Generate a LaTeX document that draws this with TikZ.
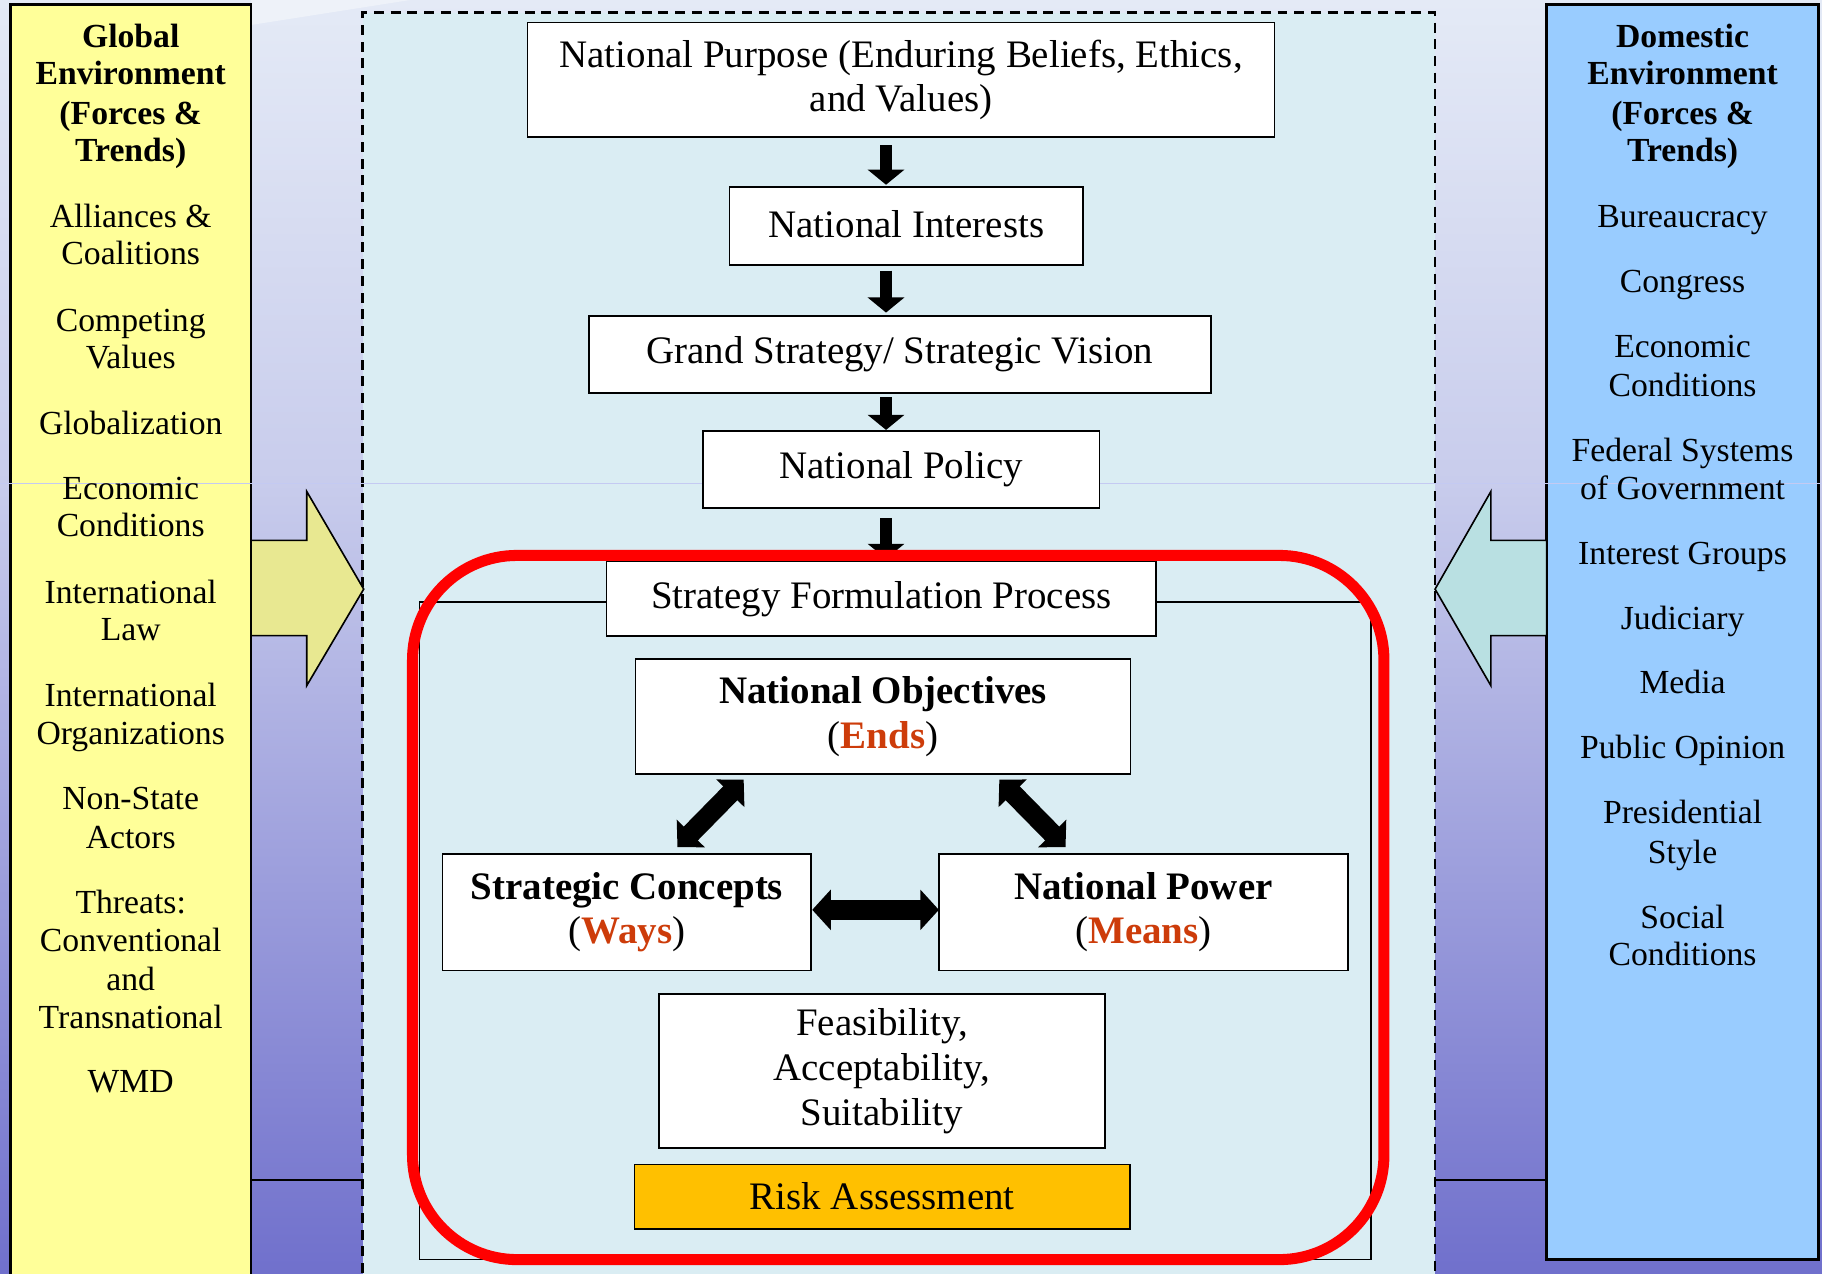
\documentclass[tikz,border=0pt]{standalone}
\usepackage{fontspec}
\setmainfont{Liberation Serif}
\usetikzlibrary{arrows.meta,calc}
\definecolor{yel}{RGB}{255,255,153}
\definecolor{blu}{RGB}{153,204,255}
\definecolor{ctr}{RGB}{218,237,243}
\definecolor{larr}{RGB}{232,232,145}
\definecolor{rarr}{RGB}{185,224,226}
\definecolor{riskcol}{RGB}{255,192,0}
\definecolor{endcol}{RGB}{205,60,10}
\definecolor{bgA}{RGB}{228,234,246}
\definecolor{bgB}{RGB}{200,204,236}
\definecolor{bgC}{RGB}{112,112,204}
\definecolor{bgL}{RGB}{238,242,249}
\definecolor{faint}{RGB}{196,202,242}
\newcommand\ctrfont{\fontsize{16.75}{19.25}\selectfont}
\newcommand\sidefont{\fontsize{14.5}{16.5}\selectfont}
\tikzset{
  box/.style={draw=black, line width=0.65pt, fill=white, inner sep=0pt, outer sep=0pt, align=center, font=\ctrfont},
  sidetxt/.style={anchor=base, inner sep=0pt, font=\sidefont},
  sidebold/.style={anchor=base, inner sep=0pt, font=\sidefont\bfseries},
  downarr/.style={line width=5.5pt, -{Triangle[length=6.5pt,width=15.5pt]}},
  dblarr/.style={line width=8.5pt, {Triangle[length=8.2pt,width=16.5pt]}-{Triangle[length=8.2pt,width=16.5pt]}},
  hdblarr/.style={line width=8.5pt, {Triangle[length=8pt,width=17pt]}-{Triangle[length=8pt,width=17pt]}},
  sidearrow/.style={draw=black, line width=0.7pt, line join=miter},
}
\begin{document}
\begin{tikzpicture}[x=0.5pt,y=-0.5pt]
\useasboundingbox (0,0) rectangle (1568,1096);
% background
\shade[top color=bgA, bottom color=bgB] (0,0) rectangle (1568,416.5);
\shade[top color=bgB, bottom color=bgC] (0,416) rectangle (1568,1096);
\fill[bgL] (216,0) -- (353,0) -- (216,21.5) -- cycle;
% side panels
\filldraw[fill=yel, draw=black, line width=1pt] (9,4) rectangle (216,1110);
\filldraw[fill=blu, draw=black, line width=1pt] (1331,4) rectangle (1565,1084);
% central dashed panel
\fill[ctr] (312,11) rectangle (1235,1110);
\draw[line width=1.1pt, dash pattern=on 4.3pt off 2.9pt] (312,1110) -- (312,11) -- (1235,11) -- (1235,1110);
% faint line
\draw[faint, line width=0.45pt] (0,416) -- (1568,416);
% side arrows
\filldraw[sidearrow, fill=larr] (216,465) -- (264,465) -- (264,423) -- (313,507) -- (264,590) -- (264,547) -- (216,547) -- cycle;
\filldraw[sidearrow, fill=rarr] (1331,465) -- (1283,465) -- (1283,423) -- (1235,507) -- (1283,590) -- (1283,547) -- (1331,547) -- cycle;
\draw[line width=1.15pt] (216,1015.5) -- (312,1015.5);
\draw[line width=1.15pt] (1235,1015.5) -- (1331,1015.5);
% inner frame
\draw[line width=0.6pt] (361,518) rectangle (1180,1084);
% central boxes
\node[box, minimum width=321.5pt, minimum height=49.25pt] (np) at (775.5,68.75) {National Purpose (Enduring Beliefs, Ethics,\\ and Values)};
\node[box, minimum width=152pt, minimum height=33.5pt] (ni) at (780,194.5) {\raisebox{1.5pt}{National Interests}};
\node[box, minimum width=267.5pt, minimum height=33pt] (gs) at (774.5,305) {Grand Strategy/ Strategic Vision};
\node[box, minimum width=170.5pt, minimum height=33pt] (pol) at (775.5,404) {\raisebox{1pt}{National Policy}};
\node[box, minimum width=236.5pt, minimum height=32.25pt] (sfp) at (758.5,515.25) {Strategy Formulation Process};
\node[box, minimum width=213pt, minimum height=49.5pt] (no) at (760,616.5) {\textbf{National Objectives}\\(\textbf{\textcolor{endcol}{Ends}})};
\node[box, minimum width=158.5pt, minimum height=50pt] (sc) at (539.5,785) {\textbf{Strategic Concepts}\\(\textbf{\textcolor{endcol}{Ways}})};
\node[box, minimum width=176pt, minimum height=50pt] (pw) at (984,785) {\textbf{National Power}\\(\textbf{\textcolor{endcol}{Means}})};
\node[box, minimum width=192pt, minimum height=66.25pt] (fas) at (759,921.75) {Feasibility,\\ Acceptability,\\ Suitability};
\node[box, fill=riskcol, minimum width=213.25pt, minimum height=27.75pt] (risk) at (759.25,1029.75) {Risk Assessment};
% arrows
\draw[downarr] ($(762.5,0 |- np.south)+(0,7)$) -- ($(762.5,0 |- ni.north)+(0,-2)$);
\draw[downarr] ($(762.5,0 |- ni.south)+(0,5)$) -- ($(762.5,0 |- gs.north)+(0,-3)$);
\draw[downarr] ($(762.5,0 |- gs.south)+(0,4)$) -- ($(762.5,0 |- pol.north)+(0,-1)$);
\draw[downarr] ($(762.5,0 |- pol.south)+(0,9)$) -- ($(762.5,0 |- sfp.north)+(0,-2)$);
\draw[dblarr] ($(no.south west)+(93,5)$) -- ($(sc.north west)+(202,-6)$);
\draw[dblarr] ($(no.south west)+(313,5)$) -- ($(pw.north west)+(109,-6)$);
\draw[hdblarr] ($(sc.east)+(1,-2)$) -- ($(pw.west)+(0,-2)$);
% red frame
\draw[red, line width=4.75pt, rounded corners=45pt] (355,478) rectangle (1191,1084);
% left texts
\foreach \t/\y [count=\i] in {Global/31, Environment/63, {(Forces \&}/97, {Trends)}/129}
  \node[sidebold] (gh\i) at (112.5,\y+10) {\t};
\foreach \t/\y [count=\i] in {Alliances \&/186, Coalitions/218, Competing/275, Values/307, Globalization/364, Economic/420, Conditions/452, International/509, Law/541, International/598, Organizations/631, Non-State/687, Actors/720, Threats:/776, Conventional/809, and/842, Transnational/875, WMD/930}
  \node[sidetxt] (gl\i) at (112.5,\y+10) {\t};
% right texts
\foreach \t/\y [count=\i] in {Domestic/31, Environment/63, {(Forces \&}/97, {Trends)}/129}
  \node[sidebold] (dh\i) at (1448,\y+10) {\t};
\foreach \t/\y [count=\i] in {Bureaucracy/186, Congress/242, Economic/298, Conditions/331, Federal Systems/387, of Government/420, Interest Groups/476, Judiciary/532, Media/587, Public Opinion/643, Presidential/699, Style/733, Social/789, Conditions/821}
  \node[sidetxt] (dl\i) at (1448,\y+10) {\t};
\end{tikzpicture}
\end{document}
